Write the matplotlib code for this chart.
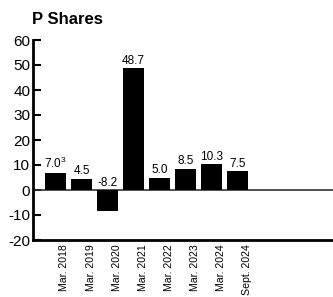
import matplotlib
matplotlib.use("Agg")
import matplotlib.pyplot as plt
import matplotlib.transforms as mtransforms

categories = ["Mar. 2018", "Mar. 2019", "Mar. 2020", "Mar. 2021", "Mar. 2022",
              "Mar. 2023", "Mar. 2024", "Sept. 2024"]
values = [7.0, 4.5, -8.2, 48.7, 5.0, 8.5, 10.3, 7.5]
value_labels = ["7.0$^3$", "4.5", "-8.2", "48.7", "5.0", "8.5", "10.3", "7.5"]
yticks = [-20, -10, 0, 10, 20, 30, 40, 50, 60]

plt.rcParams['font.family'] = ['Liberation Sans', 'DejaVu Sans']
plt.rcParams['mathtext.fontset'] = 'custom'
plt.rcParams['mathtext.rm'] = 'Liberation Sans'

fig = plt.figure(figsize=(3.33, 2.97), dpi=100)
ax = fig.add_axes([33/333, 57/297, 1 - 33/333, 200/297])

x = list(range(len(categories)))
ax.bar(x, values, width=0.81, color='black', zorder=3)
ax.axhline(0, color='#333333', lw=1.2, zorder=2)

ax.set_xlim(-0.865, 10.67)
ax.set_ylim(-20, 60)
ax.set_yticks(yticks)
ax.set_yticklabels([str(t) for t in yticks], fontsize=11)
ax.tick_params(axis='y', direction='in', length=6, width=1.5, pad=2)

ax.set_xticks(x)
ax.set_xticklabels(categories, rotation=90, fontsize=7.6, va='top', ha='center')
ax.tick_params(axis='x', length=0, pad=3)
offset = mtransforms.ScaledTranslation(9/100, 0, fig.dpi_scale_trans)
for lab in ax.get_xticklabels():
    lab.set_transform(lab.get_transform() + offset)

for s in ['top', 'right']:
    ax.spines[s].set_visible(False)
ax.spines['left'].set_linewidth(2)
ax.spines['bottom'].set_linewidth(2)

for xi, v, lab in zip(x, values, value_labels):
    y = max(v, 0)
    ax.annotate(lab, (xi, y), xytext=(0, 1), textcoords='offset points',
                ha='center', va='bottom', fontsize=8.5, zorder=4)

fig.text(32/333, 1 - 12/297, "P Shares", fontsize=12, fontweight='bold',
         ha='left', va='top')

fig.savefig("out.png", dpi=100)
